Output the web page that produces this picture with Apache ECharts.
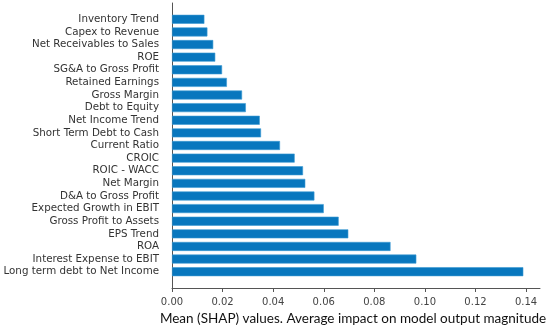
<!DOCTYPE html>
<html>
<head>
<meta charset="utf-8">
<script src="https://cdn.jsdelivr.net/npm/echarts@6/dist/echarts.min.js"></script>
<style>html,body{margin:0;padding:0;background:#fff;}#c{width:550px;height:328px;}</style>
</head>
<body>
<div id="c"></div>
<script>
const categories = [
  "Inventory Trend", "Capex to Revenue", "Net Receivables to Sales", "ROE",
  "SG&A to Gross Profit", "Retained Earnings", "Gross Margin", "Debt to Equity",
  "Net Income Trend", "Short Term Debt to Cash", "Current Ratio", "CROIC",
  "ROIC - WACC", "Net Margin", "D&A to Gross Profit", "Expected Growth in EBIT",
  "Gross Profit to Assets", "EPS Trend", "ROA", "Interest Expense to EBIT",
  "Long term debt to Net Income"
];
const meanShap = [
  0.0128, 0.0140, 0.0163, 0.0171,
  0.0198, 0.0217, 0.0277, 0.0292,
  0.0347, 0.0352, 0.0427, 0.0485,
  0.0518, 0.0527, 0.0563, 0.0600,
  0.0659, 0.0697, 0.0864, 0.0966,
  0.1389
];
const xTicks = [0, 0.02, 0.04, 0.06, 0.08, 0.10, 0.12, 0.14];
const xTitle = "Mean (SHAP) values. Average impact on model output magnitude";

const XMAX = 0.1455;
const chart = echarts.init(document.getElementById('c'), null, {renderer: 'canvas'});
chart.setOption({
  animation: false,
  backgroundColor: '#fff',
  grid: [
    {left: 172, top: 3, width: 368, height: 285, containLabel: false, outerBoundsMode: 'none'},
    {left: 172, top: 13, width: 368, height: 265, containLabel: false, outerBoundsMode: 'none'}
  ],
  xAxis: [
    {gridIndex: 0, type: 'value', min: 0, max: XMAX, show: false},
    {
      gridIndex: 1, type: 'value', min: 0, max: XMAX, offset: 10,
      splitLine: {show: false},
      axisLine: {show: true, lineStyle: {color: '#555', width: 1}},
      axisTick: {show: true, length: 4, lineStyle: {color: '#555'}, customValues: xTicks},
      axisLabel: {
        customValues: xTicks, color: '#444', fontSize: 10, fontFamily: 'DejaVu Sans', margin: 9,
        formatter: v => v.toFixed(2)
      },
      name: xTitle, nameLocation: 'middle', nameGap: 18,
      nameTextStyle: {fontFamily: 'Lato', fontSize: 13.5, color: '#111', verticalAlign: 'top', padding: [0, 6, 0, 0]}
    }
  ],
  yAxis: [
    {
      gridIndex: 0, type: 'value', min: 0, max: 1,
      axisLine: {show: true, lineStyle: {color: '#555', width: 1}},
      axisTick: {show: false}, axisLabel: {show: false}, splitLine: {show: false}
    },
    {
      gridIndex: 1, type: 'category', data: categories, inverse: true,
      axisLine: {show: false}, axisTick: {show: false}, splitLine: {show: false},
      axisLabel: {color: '#333', fontSize: 10.3, fontFamily: 'DejaVu Sans', margin: 13, interval: 0}
    }
  ],
  series: [{
    type: 'bar', xAxisIndex: 1, yAxisIndex: 1, data: meanShap, barWidth: 9,
    itemStyle: {color: '#0877BE', borderColor: '#3d9ad3', borderWidth: 0.6}
  }]
});
</script>
</body>
</html>
